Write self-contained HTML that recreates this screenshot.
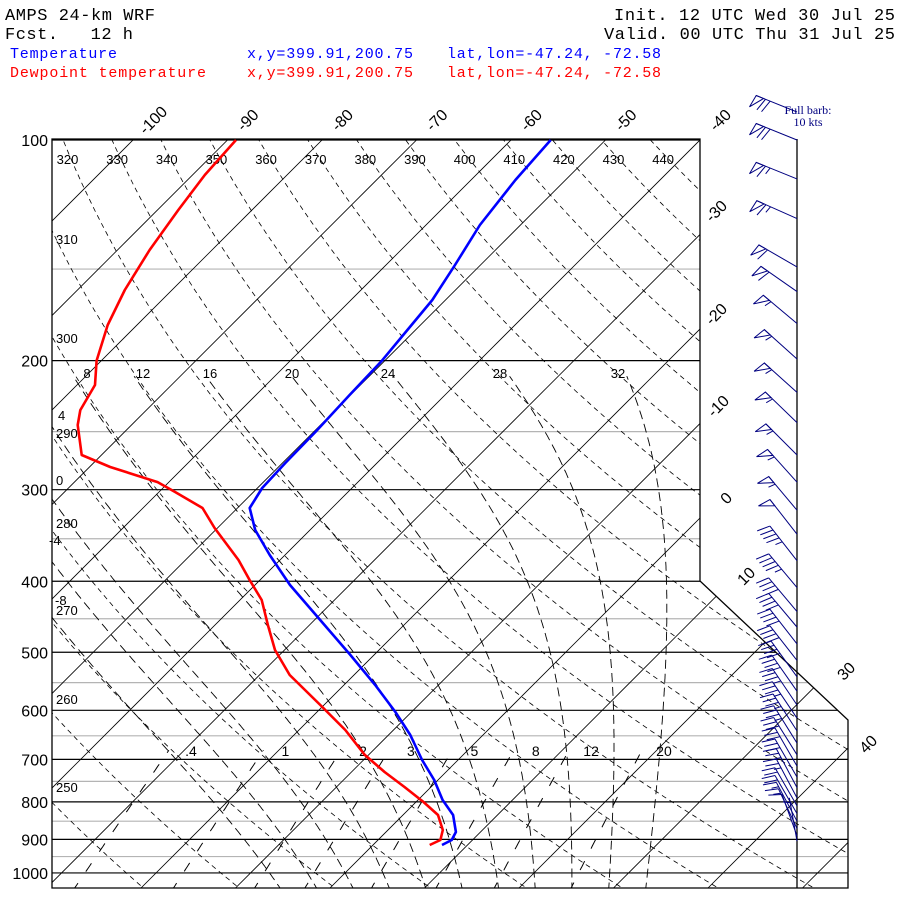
<!DOCTYPE html>
<html><head><meta charset="utf-8"><style>
html,body{margin:0;padding:0;background:#fff;}
svg{display:block;font-family:"Liberation Sans",sans-serif;}
</style></head><body>
<svg id="chart" width="900" height="900" viewBox="0 0 900 900" xmlns="http://www.w3.org/2000/svg">
<defs><clipPath id="plotclip"><polygon points="52,139 700,139 700,581 848,720 848,888 52,888"/></clipPath></defs>
<g font-family="Liberation Mono, monospace" font-size="17">
<text x="5" y="20" textLength="150">AMPS 24-km WRF</text>
<text x="5" y="39" textLength="128" xml:space="preserve">Fcst.   12 h</text>
<text x="614" y="20" textLength="281">Init. 12 UTC Wed 30 Jul 25</text>
<text x="604" y="39" textLength="291">Valid. 00 UTC Thu 31 Jul 25</text>
<text x="10" y="58" fill="#0000ff" font-size="15" textLength="107">Temperature</text>
<text x="247" y="58" fill="#0000ff" font-size="15" textLength="166">x,y=399.91,200.75</text>
<text x="447" y="58" fill="#0000ff" font-size="15" textLength="214">lat,lon=-47.24, -72.58</text>
<text x="10" y="77" fill="#ff0000" font-size="15" textLength="196">Dewpoint temperature</text>
<text x="247" y="77" fill="#ff0000" font-size="15" textLength="166">x,y=399.91,200.75</text>
<text x="447" y="77" fill="#ff0000" font-size="15" textLength="214">lat,lon=-47.24, -72.58</text>
</g>
<g id="bg" clip-path="url(#plotclip)"></g>
<g id="fg"></g>
<g id="barbs"></g>
<g fill="#000080" font-family="Liberation Serif, serif" font-size="12" text-anchor="middle">
<text x="808" y="114">Full barb:</text><text x="808" y="126">10 kts</text></g>
</svg>
<script>
// ---- data ----
const tempP = [100,113.4,130.6,148.1,165.3,183.4,200,222.8,250.3,275.9,298.4,317.8,340.5,368.4,404.7,451.8,504.3,554.1,603.2,648.3,701.3,746.9,795.2,833.6,879.4,901.8,916.1];
const tempT = [-55.8,-55.3,-54.3,-52.7,-51.4,-50.8,-50.3,-50.1,-49.8,-49.7,-49.5,-48.7,-45.8,-41.6,-36.3,-29.4,-22.5,-16.7,-11.7,-7.7,-3.8,-0.4,2.6,5.3,7.4,7.8,7.3];
const dewP = [100,111.6,124.6,141.3,160.2,178.8,200,215.9,233.6,244.8,269.0,279.4,292.9,302.2,317.8,338.4,374.1,398.4,424.3,459.0,496.5,537.0,590.0,638.3,690.3,728.3,763.5,800.4,833.6,873.9,901.8,916.1];
const dewT = [-89.1,-88.7,-87.8,-86.6,-85.0,-83.1,-80.5,-78.1,-77.0,-75.7,-72.1,-67.8,-61.2,-58.3,-53.7,-50.3,-44.4,-41.1,-37.7,-34.4,-31.0,-26.8,-20.4,-15.1,-10.4,-6.5,-2.8,0.8,3.7,5.8,6.6,6.0];
const windP = [100,113,128,149,161,178,199,221,243,269,293,320,345,375,408,440,462,487,513,540,565,590,615,640,665,690,715,740,765,790,810,830,850,870,890,905];
const windSpd = [70,65,65,60,60,55,55,55,55,55,55,55,50,45,45,40,40,40,40,40,40,35,35,35,35,30,30,30,25,25,20,20,15,15,10,5];
const windDir = [292,292,294,300,305,310,312,312,314,315,318,320,322,322,320,320,320,322,322,324,325,326,326,327,328,328,330,330,332,332,330,330,332,335,340,350];
const isoT = [-140,-130,-120,-110,-100,-90,-80,-70,-60,-50,-40,-30,-20,-10,0,10,20,30,40,50];
const thetaK = [240,250,260,270,280,290,300,310,320,330,340,350,360,370,380,390,400,410,420,430,440,450,460];
const moistW = [-8,-4,0,4,8,12,16,20,24,28,32];
const mixW = [0.4,1,2,3,5,8,12,20];
const mixLabels = [".4","1","2","3","5","8","12","20"];
const pLevels = [100,200,300,400,500,600,700,800,900,1000,1050];
const pMinor = [150,250,350,450,550,650,750,850,950];
// ---- axes ----
const NS="http://www.w3.org/2000/svg";
function Y(p){return 140+318.3*Math.log(p/100);}
function X(T,p){return 1078+9.45*T-(Y(p)-140);}
function mk(tag,attrs,parent){const e=document.createElementNS(NS,tag);for(const k in attrs)e.setAttribute(k,attrs[k]);parent.appendChild(e);return e;}
const bg=document.getElementById('bg'), fg=document.getElementById('fg'), bb=document.getElementById('barbs');
function pathFrom(pts){return 'M'+pts.map(q=>q[0].toFixed(1)+','+q[1].toFixed(1)).join('L');}
// isobars
pMinor.forEach(p=>{const l=mk('line',{x1:52,x2:848,y1:Y(p),y2:Y(p),stroke:'#b4b4b4','stroke-width':1.2},bg);

});
pLevels.forEach(p=>{const l=mk('line',{x1:52,x2:848,y1:Y(p),y2:Y(p),stroke:'#000','stroke-width':1.2},bg);

});
// isotherms
isoT.forEach(T=>{const l=mk('line',{x1:X(T,1060),y1:Y(1060),x2:X(T,95),y2:Y(95),stroke:'#000','stroke-width':0.8},bg);

});
// dry adiabats
thetaK.forEach(th=>{const pts=[];for(let p=1060;p>=95;p-=5){const T=th*Math.pow(p/1000,0.2857)-273.15;pts.push([X(T,p),Y(p)]);}
const l=mk('path',{d:pathFrom(pts),fill:'none',stroke:'#000','stroke-width':0.8,'stroke-dasharray':'5,4'},bg);

});
// moist adiabats
function es(T){return 6.112*Math.exp(17.67*T/(T+243.5));}
moistW.forEach(w=>{let T=w+273.15,p=1000;const pts=[];
 // integrate downward first to 1060
 let Td=T,pd=1000;const low=[];
 function lapse(T,p){const rs=0.622*es(T-273.15)/(p-es(T-273.15));const Rd=287,cp=1004,L=2.5e6;
  return (Rd*T+L*rs)/(p*(cp+L*L*rs*0.622/(Rd*T*T)));}
 while(pd<1060){Td+=lapse(Td,pd)*2;pd+=2;low.unshift([X(Td-273.15,pd),Y(pd)]);}
 pts.push(...low);
 while(p>210){pts.push([X(T-273.15,p),Y(p)]);T-=lapse(T,p)*2;p-=2;}
 pts.push([X(T-273.15,p),Y(p)]);
 const l=mk('path',{d:pathFrom(pts),fill:'none',stroke:'#000','stroke-width':0.9,'stroke-dasharray':'9,5'},bg);
 
 });
// mixing ratio
mixW.forEach((w,i)=>{const pts=[];for(let p=1060;p>=680;p-=5){const e=w*p/(622+w);const a=Math.log(e/6.112);const T=243.5*a/(17.67-a);pts.push([X(T,p),Y(p)]);}
 const l=mk('path',{d:pathFrom(pts),fill:'none',stroke:'#000','stroke-width':1,'stroke-dasharray':'10,14'},bg);
 
 
 const e=w*680/(622+w);const a=Math.log(e/6.112);const T=243.5*a/(17.67-a);
 const t=mk('text',{x:X(T,680)+22,y:756,'font-size':14,'text-anchor':'middle'},fg);t.textContent=mixLabels[i];
 
 });
// frame
const fr=mk('polygon',{points:'52,139 700,139 700,581 848,720 848,888 52,888',fill:'none',stroke:'#000','stroke-width':1.3},fg);


const col=mk('line',{x1:797,y1:139,x2:797,y2:888,stroke:'#000','stroke-width':1.3},fg);


// pressure labels
[100,200,300,400,500,600,700,800,900,1000].forEach(p=>{const t=mk('text',{x:48,y:Y(p)+6,'font-size':16,'text-anchor':'end'},fg);t.textContent=p;
 
 });
// isotherm labels top and right
function rotLabel(txt,x,y,name){const t=mk('text',{x:x,y:y,'font-size':16,'text-anchor':'middle',transform:`rotate(-45 ${x} ${y})`},fg);t.textContent=txt;
 
 }
[-100,-90,-80,-70,-60,-50,-40].forEach(T=>rotLabel(T,X(T,100)+24,124,'isotherm-label'));
[[-30,720,215],[-20,720,318],[-10,722,410],[0,730,502],[10,750,580],[30,850,675],[40,872,748]].forEach(a=>rotLabel(a[0],a[1],a[2],'isotherm-label'));
// theta labels
[320,330,340,350,360,370,380,390,400,410,420,430,440].forEach(th=>{const p=105;const T=th*Math.pow(p/1000,0.2857)-273.15;
 const t=mk('text',{x:X(T,p)-2,y:164,'font-size':13,'text-anchor':'middle'},fg);t.textContent=th;
 
 });
[[310,244],[300,343],[290,438],[280,528],[270,615],[260,704],[250,792]].forEach(a=>{const t=mk('text',{x:56,y:a[1],'font-size':13},fg);t.textContent=a[0];
 
 });
[["8",87],["12",143],["16",210],["20",292],["24",388],["28",500],["32",618]].forEach(a=>{const t=mk('text',{x:a[1],y:378,'font-size':13,'text-anchor':'middle'},fg);t.textContent=a[0];
 
 });
[["4",58,420],["0",56,485],["-4",49,545],["-8",55,605]].forEach(a=>{const t=mk('text',{x:a[1],y:a[2],'font-size':13},fg);t.textContent=a[0];
 
 });
// profiles
const tl=mk('path',{d:pathFrom(tempP.map((p,i)=>[X(tempT[i],p),Y(p)])),fill:'none',stroke:'#0000ff','stroke-width':2.6,'stroke-linejoin':'round'},fg);


const dl=mk('path',{d:pathFrom(dewP.map((p,i)=>[X(dewT[i],p),Y(p)])),fill:'none',stroke:'#ff0000','stroke-width':2.6,'stroke-linejoin':'round'},fg);


// wind barbs
function barb(x0,y0,spd,dir){const g=mk('g',{stroke:'#000080','stroke-width':1,fill:'none'},bb);
 
 
 const r=dir*Math.PI/180;const ux=Math.sin(r),uy=-Math.cos(r);const L=44;
 const tx=x0+ux*L,ty=y0+uy*L;mk('line',{x1:x0,y1:y0,x2:tx,y2:ty},g);
 const px=uy,py=-ux; // perpendicular
 let s=Math.round(spd/5)*5,pos=0;
 while(s>=50){const ax=tx-ux*pos,ay=ty-uy*pos;const bx=tx-ux*(pos+8),by=ty-uy*(pos+8);
  mk('polygon',{points:`${ax},${ay} ${ax+px*13+ux*2},${ay+py*13+uy*2} ${bx},${by}`},g);pos+=10;s-=50;}
 while(s>=10){const ax=tx-ux*pos,ay=ty-uy*pos;mk('line',{x1:ax,y1:ay,x2:ax+px*13+ux*4,y2:ay+py*13+uy*4},g);pos+=5;s-=10;}
 if(s>=5){if(pos===0)pos=5;const ax=tx-ux*pos,ay=ty-uy*pos;mk('line',{x1:ax,y1:ay,x2:ax+px*7+ux*2,y2:ay+py*7+uy*2},g);}}
windP.forEach((p,i)=>barb(797,Y(p),windSpd[i],windDir[i]));
barb(797,112,70,292);
</script>
</body></html>
